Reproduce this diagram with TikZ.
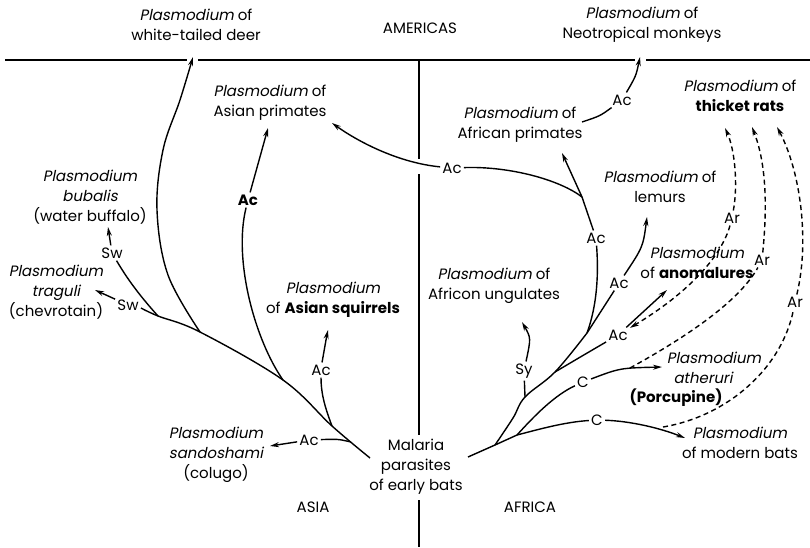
\documentclass[tikz,border=0pt]{standalone}
\usepackage{fontspec}
\setmainfont{Poppins}[AutoFakeSlant=0.2]
\usetikzlibrary{arrows.meta}
\begin{document}
\begin{tikzpicture}[x=1pt,y=-1pt,line width=1.4pt,
  txt/.style={font=\fontsize{15}{20}\selectfont,align=center,inner sep=1pt},
  brl/.style={font=\fontsize{15}{16}\selectfont,inner sep=1.6pt},
  arr/.style={-{Stealth[length=9pt,width=5pt]}},
  dsh/.style={dash pattern=on 5pt off 3.5pt}]
\useasboundingbox (0,0) rectangle (810,547);
% frame lines
\coordinate (h0) at (5,60); \coordinate (h1) at (187,60);
\coordinate (h2) at (198,60); \coordinate (h3) at (635,60);
\coordinate (h4) at (646,60); \coordinate (h5) at (810,60);
\draw (h0) -- (h1) (h2) -- (h3) (h4) -- (h5);
\coordinate (v0) at (419,60); \coordinate (v1) at (419,159);
\coordinate (v2) at (419,174); \coordinate (v3) at (419,435);
\coordinate (v4) at (419,500); \coordinate (v5) at (419,547);
\draw (v0) -- (v1) (v2) -- (v3) (v4) -- (v5);
% texts
\node[txt] (deer) at (196,25) {\textit{Plasmodium} of\\white-tailed deer};
\node[txt] (amer) at (420,28) {AMERICAS};
\node[txt] (neo) at (642,25) {\textit{Plasmodium} of\\Neotropical monkeys};
\node[txt] (aprim) at (270,103) {\textit{Plasmodium} of\\Asian primates};
\node[txt] (afprim) at (520,125) {\textit{Plasmodium} of\\African primates};
\node[txt] (thick) at (740,96) {\textit{Plasmodium} of\\\textbf{thicket rats}};
\node[txt] (lem) at (660,187) {\textit{Plasmodium} of\\lemurs};
\node[txt] (anom) at (697,263) {\textit{Plasmodium}\\of \textbf{anomalures}};
\node[txt] (ungul) at (494,286) {\textit{Plasmodium} of\\Africon ungulates};
\node[txt] (ath1) at (714,358) {\textit{Plasmodium}};
\node[txt] (ath2) at (703,378) {\textit{atheruri}};
\node[txt] (ath3) at (676,398) {\textbf{(Porcupine)}};
\node[txt] (modern) at (740,443) {\textit{Plasmodium}\\of modern bats};
\node[txt] (mal) at (416,467) {Malaria\\parasites\\of early bats};
\node[txt] (asia) at (313,507) {ASIA};
\node[txt] (africa) at (530,507) {AFRICA};
\node[txt] (sand) at (216,455) {\textit{Plasmodium}\\\textit{sandoshami}\\(colugo)};
\node[txt] (squir) at (333,300) {\textit{Plasmodium}\\of \textbf{Asian squirrels}};
\node[txt] (bub) at (90,197) {\textit{Plasmodium}\\\textit{bubalis}\\(water buffalo)};
\node[txt] (trag) at (56,292) {\textit{Plasmodium}\\\textit{traguli}\\(chevrotain)};
% branch labels
\node[brl] (sw1) at (112,253) {Sw};
\node[brl] (sw2) at (128,305) {Sw};
\node[brl] (acP) at (248,200) {\textbf{Ac}};
\node[brl] (acQ) at (321,370) {Ac};
\node[brl] (acS) at (309,440) {Ac};
\node[brl] (acX) at (452,168) {Ac};
\node[brl] (acN) at (622,100) {Ac};
\node[brl] (acAf) at (596,238) {Ac};
\node[brl] (acL) at (619,283) {Ac};
\node[brl] (acAn) at (618,335) {Ac};
\node[brl] (sy) at (524,371) {Sy};
\node[brl] (c1) at (583,382) {C};
\node[brl] (c2) at (597,420) {C};
\node[brl] (ar1) at (732,218) {Ar};
\node[brl] (ar2) at (762,260) {Ar};
\node[brl] (ar3) at (795,302) {Ar};
% junctions and free ends
\coordinate (Lroot) at (370,458); \coordinate (Ls) at (351,442);
\coordinate (Lq) at (332,426); \coordinate (Lp) at (283,380);
\coordinate (Ld) at (200,332); \coordinate (Lb) at (158,316);
\coordinate (Lend) at (141,308);
\coordinate (tS) at (270,446); \coordinate (tQ) at (328,330);
\coordinate (tP) at (268,128); \coordinate (tD) at (193,57);
\coordinate (tB) at (108,227); \coordinate (tT) at (95,290);
\coordinate (Rroot) at (468,457); \coordinate (J1) at (495,445);
\coordinate (J1b) at (517,435); \coordinate (J2) at (525,397);
\coordinate (J3) at (555,372); \coordinate (J4) at (587,333);
\coordinate (J5) at (582,197);
\coordinate (tC1) at (662,367); \coordinate (tC2) at (685,438);
\coordinate (tSy) at (522,322); \coordinate (tAn) at (667,290);
\coordinate (tL) at (647,217); \coordinate (tAf) at (562,153);
\coordinate (tX) at (332,123); \coordinate (nS) at (582,122);
\coordinate (tN) at (640,57);
\coordinate (dB) at (630,368); \coordinate (dC) at (663,427);
\coordinate (tD1) at (725,128); \coordinate (tD2) at (752,127);
\coordinate (tD3) at (777,127);
% left tree
\draw plot[smooth,tension=0.6] coordinates {(Lroot) (Lq) (Lp) (Ld) (Lb) (Lend)};
\draw (Ls) .. controls (338,439) .. (acS);
\draw[arr] (acS) -- (tS);
\draw (Lq) .. controls (324,405) and (321,392) .. (acQ);
\draw[arr] (acQ) .. controls (324,348) .. (tQ);
\draw (Lp) .. controls (255,340) and (233,260) .. (acP);
\draw[arr] (acP) -- (tP);
\draw[arr] plot[smooth,tension=0.6] coordinates {(Ld) (168,275) (157,210) (163,150) (180,100) (tD)};
\draw (Lb) .. controls (140,296) and (128,280) .. (sw1);
\draw[arr] (sw1) -- (tB);
\draw[arr] (sw2) -- (tT);
% right tree
\draw (Rroot) -- (J1) -- (J1b) .. controls (540,429) and (565,422) .. (c2);
\draw[arr] (c2) .. controls (630,421) and (660,428) .. (tC2);
\draw (J1b) .. controls (535,415) and (555,395) .. (c1);
\draw[arr] (c1) .. controls (620,368) .. (tC1);
\draw plot[smooth,tension=0.6] coordinates {(J1) (513,418) (J2) (J3) (J4)};
\draw (J2) -- (sy);
\draw[arr] (sy) .. controls (531,338) .. (tSy);
\draw (J3) .. controls (582,356) .. (acAn);
\draw[arr] (acAn) -- (tAn);
\draw (J4) .. controls (601,312) .. (acL);
\draw[arr] (acL) .. controls (643,247) .. (tL);
\draw (J4) .. controls (599,300) and (598,265) .. (acAf);
\draw (acAf) -- (J5);
\draw[arr] (J5) -- (tAf);
\draw (J5) .. controls (560,180) and (510,166) .. (acX);
\draw[arr] (acX) .. controls (400,163) and (360,143) .. (tX);
\draw (nS) .. controls (600,116) .. (acN);
\draw[arr] (acN) .. controls (636,76) .. (tN);
% dashed
\draw[dsh,arr] (ar1) .. controls (722,255) and (690,292) .. (acAn);
\draw[dsh,arr] (ar1) .. controls (738,185) and (735,150) .. (tD1);
\draw[dsh] (dB) .. controls (690,335) and (740,300) .. (ar2);
\draw[dsh,arr] (ar2) .. controls (768,200) and (765,160) .. (tD2);
\draw[dsh] (dC) .. controls (728,416) and (782,368) .. (ar3);
\draw[dsh,arr] (ar3) .. controls (810,240) and (800,170) .. (tD3);
\end{tikzpicture}
\end{document}
